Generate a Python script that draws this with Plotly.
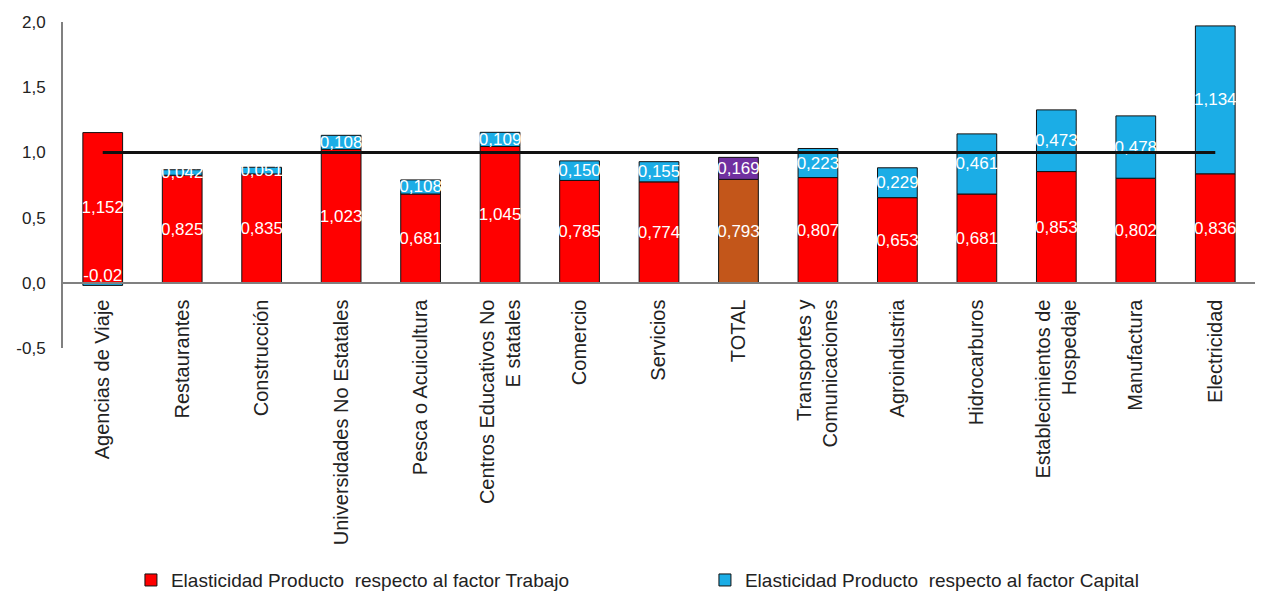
import plotly.graph_objects as go

categories = [
    "Agencias de Viaje", "Restaurantes", "Construcción", "Universidades No Estatales",
    "Pesca o Acuicultura", "Centros Educativos No<br>E statales", "Comercio", "Servicios",
    "TOTAL", "Transportes y<br>Comunicaciones", "Agroindustria", "Hidrocarburos",
    "Establecimientos de<br>Hospedaje", "Manufactura", "Electricidad",
]
trabajo = [1.152, 0.825, 0.835, 1.023, 0.681, 1.045, 0.785, 0.774, 0.793, 0.807,
           0.653, 0.681, 0.853, 0.802, 0.836]
capital = [-0.02, 0.042, 0.051, 0.108, 0.108, 0.109, 0.150, 0.155, 0.169, 0.223,
           0.229, 0.461, 0.473, 0.478, 1.134]
trabajo_labels = ["1,152", "0,825", "0,835", "1,023", "0,681", "1,045", "0,785", "0,774",
                  "0,793", "0,807", "0,653", "0,681", "0,853", "0,802", "0,836"]
capital_labels = ["-0,02", "0,042", "0,051", "0,108", "0,108", "0,109", "0,150", "0,155",
                  "0,169", "0,223", "0,229", "0,461", "0,473", "0,478", "1,134"]
reference = [1.0] * len(categories)
ytick_vals = [-0.5, 0.0, 0.5, 1.0, 1.5, 2.0]
ytick_text = ["-0,5", "0,0", "0,5", "1,0", "1,5", "2,0"]

RED = "#FF0000"
BLUE = "#1BADE6"
BROWN = "#C3561A"
PURPLE = "#7030A0"

trab_colors = [BROWN if c == "TOTAL" else RED for c in categories]
cap_colors = [PURPLE if c == "TOTAL" else BLUE for c in categories]
cap_textpos = ["none" if v < 0 else "inside" for v in capital]

font_family = "Liberation Sans, Arial, sans-serif"

fig = go.Figure()
fig.add_trace(go.Bar(
    x=categories, y=trabajo, name="Elasticidad Producto  respecto al factor Trabajo",
    marker=dict(color=trab_colors, line=dict(color="#111111", width=1)),
    text=trabajo_labels, textposition="inside", insidetextanchor="middle",
    textangle=0, constraintext="none", cliponaxis=False,
    textfont=dict(color="white", size=17, family=font_family),
))
fig.add_trace(go.Bar(
    x=categories, y=capital, name="Elasticidad Producto  respecto al factor Capital",
    marker=dict(color=cap_colors, line=dict(color="#111111", width=1)),
    text=capital_labels, textposition=cap_textpos, insidetextanchor="middle",
    textangle=0, constraintext="none", cliponaxis=False,
    textfont=dict(color="white", size=17, family=font_family),
))
# labels of negative capital segments (drawn just above the zero line, as in the source)
neg_x = [c for c, v in zip(categories, capital) if v < 0]
neg_y = [v for v in capital if v < 0]
neg_t = [t for t, v in zip(capital_labels, capital) if v < 0]
fig.add_trace(go.Scatter(
    x=neg_x, y=neg_y, text=neg_t, mode="text", textposition="top center",
    textfont=dict(color="white", size=17, family=font_family),
    showlegend=False, hoverinfo="skip",
))
fig.add_trace(go.Scatter(
    x=categories, y=reference, mode="lines",
    line=dict(color="#111111", width=3), showlegend=False, hoverinfo="skip",
))

fig.update_layout(
    width=1255, height=587,
    barmode="relative", bargap=0.5,
    plot_bgcolor="white", paper_bgcolor="white",
    margin=dict(l=55, r=8, t=14, b=247, autoexpand=False),
    font=dict(family=font_family, color="#222222"),
    legend=dict(
        orientation="h", x=0.057, y=-0.712, xanchor="left", yanchor="middle",
        font=dict(size=19, family=font_family, color="#222222"),
        entrywidth=529, traceorder="normal",
    ),
    xaxis=dict(
        anchor="free", position=0.2, automargin=False,
        range=[-0.5, len(categories) - 0.5],
        categoryorder="array", categoryarray=categories,
        showline=True, linecolor="#808080", linewidth=1.5,
        tickangle=-90, tickfont=dict(size=20, family=font_family, color="#222222"),
        ticks="outside", ticklen=8, tickcolor="rgba(0,0,0,0)",
        showgrid=False, zeroline=False,
    ),
    yaxis=dict(
        range=[-0.5, 2.0], tickvals=ytick_vals, ticktext=ytick_text, automargin=False,
        showline=True, linecolor="#808080", linewidth=2,
        showgrid=False, zeroline=False,
        ticks="outside", ticklen=12, tickcolor="rgba(0,0,0,0)",
        tickfont=dict(size=17, family=font_family, color="#222222"),
    ),
)

fig.write_html("out.html")
